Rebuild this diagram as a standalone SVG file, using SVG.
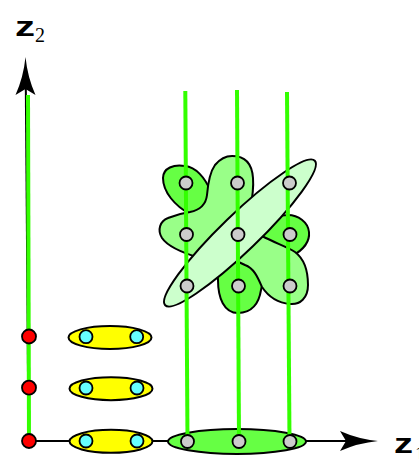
<svg xmlns="http://www.w3.org/2000/svg" xmlns:xlink="http://www.w3.org/1999/xlink" width="419" height="459" viewBox="0 0 419 459">
<style>
.ax{stroke:#000;stroke-width:2;fill:none}
.gl{stroke:#33ff00;stroke-width:4;fill:none}
.sh{stroke:#000;stroke-width:2;stroke-linejoin:round}
.gr{fill:#cccccc;stroke:#000;stroke-width:1.8}
.rd{fill:#ff0000;stroke:#000;stroke-width:1.8}
.cy{fill:#66ffff;stroke:#000;stroke-width:1.8}
.ye{fill:#ffff00;stroke:#000;stroke-width:2}
.zl{font-family:"Liberation Sans",Arial,sans-serif;font-size:27px;font-weight:bold;fill:#000}
.sub{font-family:"Liberation Serif","Times New Roman",serif;font-size:20px;fill:#000}
</style>
<defs>
<path id="ah" d="M0,0 Q-20,-2 -38,-10 L-32,0 L-38,10 Q-20,2 0,0 Z" fill="#000"/>
</defs>
<g id="axes">
<line class="ax" x1="28.5" y1="441" x2="25.8" y2="85"/>
<line class="ax" x1="29" y1="441" x2="350" y2="441"/>
<use xlink:href="#ah" transform="translate(25.5,57) rotate(-90)"/>
<use xlink:href="#ah" transform="translate(378,441)"/>
</g>
<g id="label-z2"><text class="zl" x="15" y="36" textLength="20" lengthAdjust="spacingAndGlyphs">z</text><text class="sub" x="35" y="42">2</text></g>
<g id="label-z1"><text class="zl" x="394" y="453" textLength="19" lengthAdjust="spacingAndGlyphs">z</text><text class="sub" x="415" y="461">1</text></g>
<g id="bottom-ellipse"><ellipse cx="237" cy="441.5" rx="69" ry="12.5" fill="#66ff44" class="sh"/></g>
<g id="blob-bright"><path class="sh" fill="#66ff44" d="M210,190 C205,178 196,167 185,166 C174,164 163,168 163,178 C163,192 175,206 190,214 L215,240 L218,280 C218,298 224,313 238,313 C252,313 259,303 261,290 L265,272 L292,256 C303,250 310,242 309,232 C308,222 298,215 288,215 C278,215 270,220 265,225 L240,220 Z"/></g>
<g id="blob-light"><path class="sh" fill="#99ff88" d="M232,156 C245,156 252,163 253,178 C254,190 252,200 250,210 L262,236 C275,243 288,247 295,252 C303,258 308,270 308,285 C308,298 300,305 290,304 C278,303 268,296 262,287 C258,278 254,268 245,265 L230,258 L200,258 C183,253 168,247 162,238 C157,230 160,221 168,218 C175,215 183,213 190,212 C200,210 206,204 207,195 C208,183 210,172 215,165 C220,159 226,156 232,156 Z"/></g>
<g id="pale-ellipse"><ellipse class="sh" fill="#ccffcc" cx="240" cy="233" rx="104" ry="18.5" transform="rotate(-44 240 233)"/></g>
<g id="connectors">
<line class="gl" x1="28" y1="95" x2="29" y2="441"/>
<line class="gl" x1="185.3" y1="91" x2="187.5" y2="441"/>
<line class="gl" x1="237" y1="90" x2="239" y2="441"/>
<line class="gl" x1="287" y1="92" x2="289.5" y2="441"/>
</g>
<g id="grid-nodes">
<circle class="gr" cx="186" cy="183" r="6.5"/>
<circle class="gr" cx="237.5" cy="183" r="6.5"/>
<circle class="gr" cx="289.5" cy="183" r="6.5"/>
<circle class="gr" cx="186.5" cy="234.5" r="6.5"/>
<circle class="gr" cx="238" cy="234.5" r="6.5"/>
<circle class="gr" cx="290" cy="234.5" r="6.5"/>
<circle class="gr" cx="187" cy="286" r="6.5"/>
<circle class="gr" cx="238.5" cy="286" r="6.5"/>
<circle class="gr" cx="290" cy="286" r="6.5"/>
</g>
<g id="bottom-nodes">
<circle class="gr" cx="187.5" cy="441.5" r="6.5"/>
<circle class="gr" cx="239" cy="441.5" r="6.5"/>
<circle class="gr" cx="290" cy="441.5" r="6.5"/>
</g>
<g id="pair-1"><ellipse class="ye" cx="110" cy="337.5" rx="41.5" ry="11.5"/><circle class="cy" cx="86" cy="336.7" r="6.5"/><circle class="cy" cx="136.7" cy="336.7" r="6.5"/></g>
<g id="pair-2"><ellipse class="ye" cx="111" cy="388.7" rx="41.5" ry="11.5"/><circle class="cy" cx="86" cy="388" r="6.5"/><circle class="cy" cx="137" cy="388" r="6.5"/></g>
<g id="pair-3"><ellipse class="ye" cx="111" cy="441.3" rx="41.5" ry="11.5"/><circle class="cy" cx="86" cy="441" r="6.5"/><circle class="cy" cx="137" cy="441" r="6.5"/></g>
<g id="red-nodes">
<circle class="rd" cx="29" cy="336.5" r="7"/>
<circle class="rd" cx="29" cy="387.7" r="7"/>
<circle class="rd" cx="29" cy="441" r="7"/>
</g>
</svg>
